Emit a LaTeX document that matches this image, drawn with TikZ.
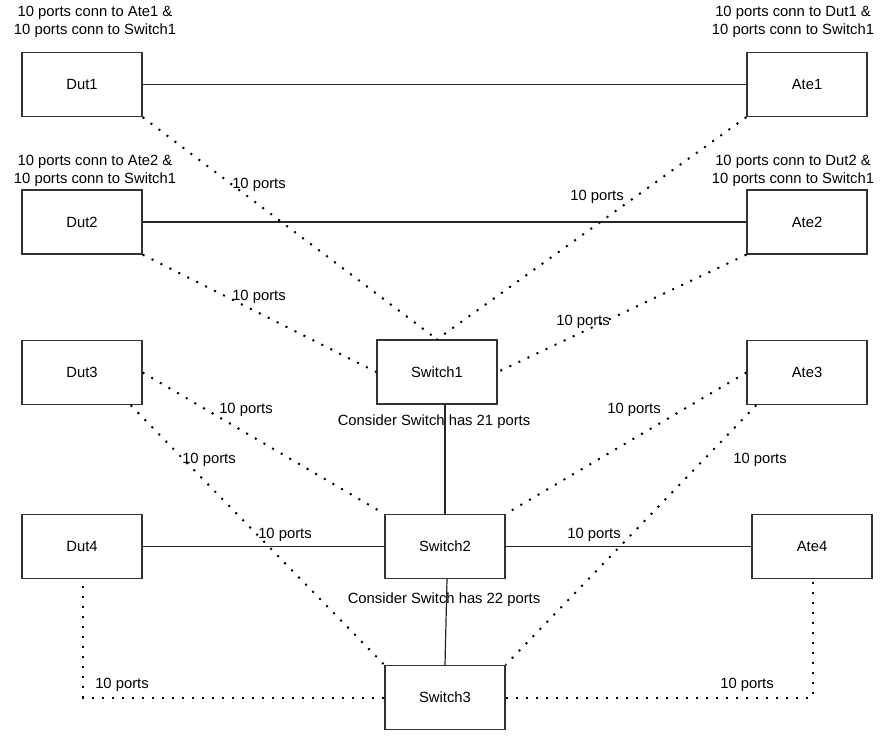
\documentclass[tikz,border=0pt]{standalone}
\usepackage{fontspec}
\setmainfont{Liberation Sans}
\usetikzlibrary{calc}
\begin{document}
\begin{tikzpicture}[x=1pt,y=-1pt,
  box/.style={draw=black!80, line width=1.3pt, fill=white, minimum width=120pt,
    minimum height=64pt, inner sep=0pt, font=\fontsize{14.8}{17}\selectfont},
  solidlink/.style={draw=black!85, line width=1.2pt},
  dotlink/.style={draw=black, line width=2pt, dash pattern=on 2pt off 8pt},
  lbl/.style={inner sep=0pt, font=\fontsize{14.8}{18}\selectfont, align=center}]
  \useasboundingbox (0,0) rectangle (890,736);

  % device boxes
  \node[box] (dut1) at (82,84.5) {Dut1};
  \node[box] (ate1) at (807,84.5) {Ate1};
  \node[box] (dut2) at (82,222) {Dut2};
  \node[box] (ate2) at (807,222) {Ate2};
  \node[box] (dut3) at (82,372.5) {Dut3};
  \node[box] (ate3) at (807,372.5) {Ate3};
  \node[box] (sw1) at (437,372) {Switch1};
  \node[box] (dut4) at (82,546.5) {Dut4};
  \node[box] (sw2) at (445,546.5) {Switch2};
  \node[box] (ate4) at (812,546.5) {Ate4};
  \node[box] (sw3) at (445,697.5) {Switch3};

  % solid links
  \draw[solidlink] (dut1.east) -- (ate1.west);
  \draw[solidlink] (dut2.east) -- (ate2.west);
  \draw[solidlink] (sw2.north) -- (sw2.north |- sw1.south);
  \draw[solidlink] (sw3.north) -- ($(sw2.south)+(2,0)$);
  \draw[solidlink] (dut4.east) -- (sw2.west);
  \draw[solidlink] (sw2.east) -- (ate4.west);

  % dotted port links
  \draw[dotlink] (dut1.south east) -- (sw1.north);
  \draw[dotlink] (ate1.south west) -- (sw1.north);
  \draw[dotlink] (dut2.south east) -- (sw1.west);
  \draw[dotlink] (ate2.south west) -- (sw1.east);
  \draw[dotlink] (dut3.east) -- (sw2.north west);
  \draw[dotlink] ($(dut3.south east)+(-12,0)$) -- (sw3.north west);
  \draw[dotlink] (ate3.west) -- (sw2.north east);
  \draw[dotlink] ($(ate3.south west)+(10,0)$) -- (sw3.north east);
  \draw[dotlink] ($(dut4.south)+(1,7)$) |- (sw3.west);
  \draw[dotlink] ($(ate4.south)+(1,3)$) |- (sw3.east);

  % annotations
  \node[lbl] (n1) at (95,22) {10 ports conn to Ate1 \&\\10 ports conn to Switch1};
  \node[lbl] (n2) at (793,22) {10 ports conn to Dut1 \&\\10 ports conn to Switch1};
  \node[lbl] (n3) at (95,171) {10 ports conn to Ate2 \&\\10 ports conn to Switch1};
  \node[lbl] (n4) at (793,171) {10 ports conn to Dut2 \&\\10 ports conn to Switch1};
  \node[lbl] (c1) at (434,422) {Consider Switch has 21 ports};
  \node[lbl] (c2) at (444,600) {Consider Switch has 22 ports};

  \node[lbl] (p1) at (259,185) {10 ports};
  \node[lbl] (p2) at (597,197) {10 ports};
  \node[lbl] (p3) at (259,297) {10 ports};
  \node[lbl] (p4) at (583,322) {10 ports};
  \node[lbl] (p5) at (246,410) {10 ports};
  \node[lbl] (p6) at (634,410) {10 ports};
  \node[lbl] (p7) at (209,460) {10 ports};
  \node[lbl] (p8) at (760,460) {10 ports};
  \node[lbl] (p9) at (285,535) {10 ports};
  \node[lbl] (p10) at (594,535) {10 ports};
  \node[lbl] (p11) at (122,685) {10 ports};
  \node[lbl] (p12) at (747,685) {10 ports};
\end{tikzpicture}
\end{document}
